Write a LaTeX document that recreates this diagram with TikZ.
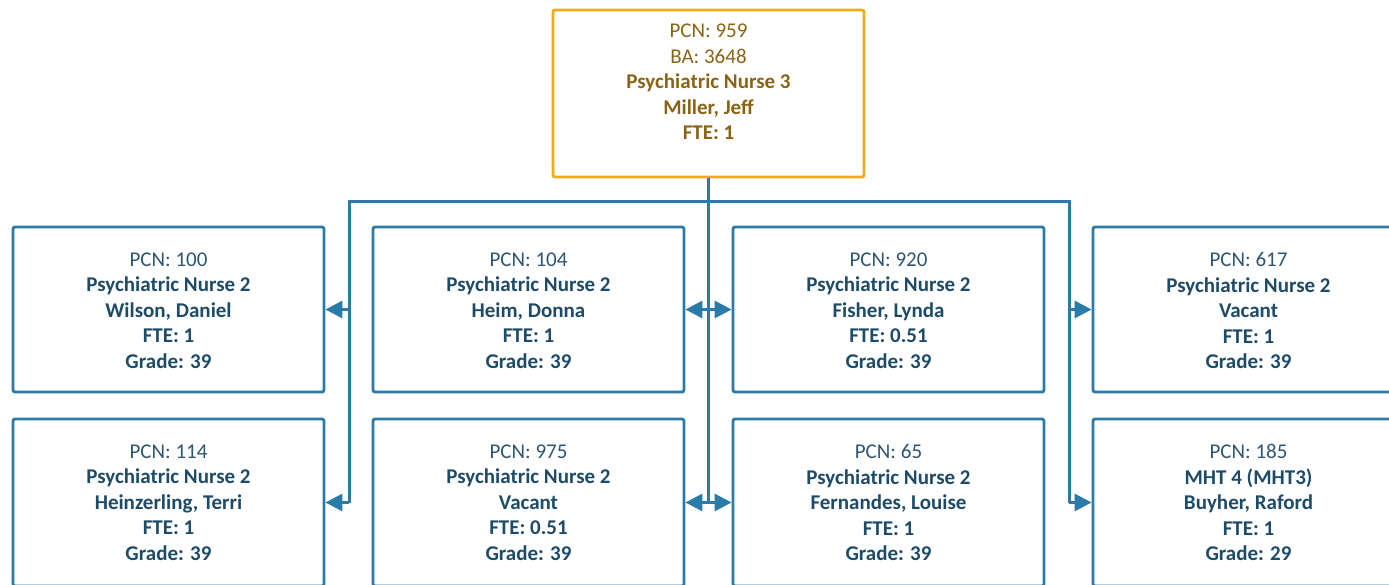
\documentclass[tikz,border=0pt]{standalone}
\usepackage{fontspec}
\setmainfont{Carlito}
\usetikzlibrary{arrows.meta}
\definecolor{lineblue}{HTML}{2B7BA8}
\definecolor{textblue}{HTML}{1D4B68}
\definecolor{pcnblue}{HTML}{2E5670}
\definecolor{toporange}{HTML}{F0AA1E}
\definecolor{topbrown}{HTML}{8A6414}
\tikzset{
  box/.style={draw=lineblue, line width=2.8pt, rounded corners=2pt, minimum width=311pt, minimum height=165pt, inner sep=0pt},
  boxlow/.style={box, minimum height=167pt},
  topbox/.style={box, draw=toporange, minimum height=167pt},
  txt/.style={align=center, inner sep=0pt, font=\fontsize{21}{25.5}\selectfont, text=textblue},
  toptxt/.style={txt, text=topbrown},
  conn/.style={draw=lineblue, line width=3pt},
  arr/.style={conn, -{Triangle[length=17pt,width=17pt]}}
}
\newcommand{\pcn}[1]{{\color{pcnblue}#1}}
\begin{document}
\begin{tikzpicture}[x=1pt,y=-1pt]
\useasboundingbox (0,0) rectangle (1389,584);
\clip (0,0) rectangle (1389,584);
% top box
\node[topbox] (top) at (708.5,93.5) {};
\node[toptxt] (ttop) at (708.5,82) {PCN: 959\\BA: 3648\\\textbf{Psychiatric Nurse 3}\\\textbf{Miller, Jeff}\\\textbf{FTE: 1}};
% row 1
\node[box] (a1) at (168.5,309.5) {};
\node[box] (b1) at (528.5,309.5) {};
\node[box] (c1) at (888.5,309.5) {};
\node[box] (d1) at (1248.5,309.5) {};
% row 2
\node[boxlow] (a2) at (168.5,502.5) {};
\node[boxlow] (b2) at (528.5,502.5) {};
\node[boxlow] (c2) at (888.5,502.5) {};
\node[boxlow] (d2) at (1248.5,502.5) {};
% texts
\node[txt] (ta1) at (168.5,310.5) {\pcn{PCN: 100}\\\textbf{Psychiatric Nurse 2}\\\textbf{Wilson, Daniel}\\\textbf{FTE: 1}\\\textbf{Grade: 39}};
\node[txt] (tb1) at (528.5,310.5) {\pcn{PCN: 104}\\\textbf{Psychiatric Nurse 2}\\\textbf{Heim, Donna}\\\textbf{FTE: 1}\\\textbf{Grade: 39}};
\node[txt] (tc1) at (888.5,310.5) {\pcn{PCN: 920}\\\textbf{Psychiatric Nurse 2}\\\textbf{Fisher, Lynda}\\\textbf{FTE: 0.51}\\\textbf{Grade: 39}};
\node[txt] (td1) at (1248.5,310.5) {\pcn{PCN: 617}\\\textbf{Psychiatric Nurse 2}\\\textbf{Vacant}\\\textbf{FTE: 1}\\\textbf{Grade: 39}};
\node[txt] (ta2) at (168.5,502.5) {\pcn{PCN: 114}\\\textbf{Psychiatric Nurse 2}\\\textbf{Heinzerling, Terri}\\\textbf{FTE: 1}\\\textbf{Grade: 39}};
\node[txt] (tb2) at (528.5,502.5) {\pcn{PCN: 975}\\\textbf{Psychiatric Nurse 2}\\\textbf{Vacant}\\\textbf{FTE: 0.51}\\\textbf{Grade: 39}};
\node[txt] (tc2) at (888.5,502.5) {\pcn{PCN: 65}\\\textbf{Psychiatric Nurse 2}\\\textbf{Fernandes, Louise}\\\textbf{FTE: 1}\\\textbf{Grade: 39}};
\node[txt] (td2) at (1248.5,502.5) {\pcn{PCN: 185}\\\textbf{MHT 4 (MHT3)}\\\textbf{Buyher, Raford}\\\textbf{FTE: 1}\\\textbf{Grade: 29}};
% connectors
\coordinate (busL) at (349,201);
\coordinate (busR) at (1069,201);
\draw[conn] (busL |- a2.east) -- (busL) -- (busR) -- (busR |- d2.west);
\draw[conn] (top.south) -- (top.south |- b2.east);
\draw[arr] (busL |- a1.east) -- (a1.east);
\draw[arr] (busL |- a2.east) -- (a2.east);
\draw[arr] (top.south |- b1.east) -- (b1.east);
\draw[arr] (top.south |- c1.west) -- (c1.west);
\draw[arr] (top.south |- b2.east) -- (b2.east);
\draw[arr] (top.south |- c2.west) -- (c2.west);
\draw[arr] (busR |- d1.west) -- (d1.west);
\draw[arr] (busR |- d2.west) -- (d2.west);
\end{tikzpicture}
\end{document}
